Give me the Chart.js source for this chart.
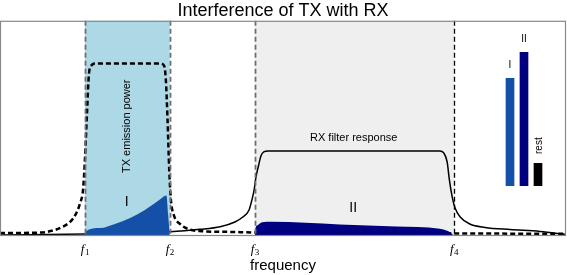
<!DOCTYPE html>
<html>
<head>
<meta charset="utf-8">
<script src="https://cdn.jsdelivr.net/npm/chart.js@4/dist/chart.umd.min.js"></script>
<style>
  body { margin: 0; background: #fff; }
  #wrap { position: relative; width: 567px; height: 275px; }
  #main { position: absolute; left: 0; top: 0; }
  #inset { position: absolute; left: 503px; top: 26px; }
</style>
</head>
<body>
<div id="wrap">
  <canvas id="main" width="567" height="275"></canvas>
  <canvas id="inset" width="42" height="160"></canvas>
</div>
<script>
// band edges on the frequency axis
const bandEdges = [15, 30, 45, 80.2];
const bandSubs = ['1', '2', '3', '4'];

// TX emission power (dashed)
const txFreq  = [0, 7.1, 9.7, 11.0, 12.4, 13.4, 14.1, 14.7, 15.0, 15.4, 15.7, 16.1, 16.8, 28.3, 29.0, 29.3, 29.6, 29.9, 30.2, 30.7, 31.8, 33.2, 35.3, 40.6, 46.0, 61.8, 81.3, 100];
const txPower = [0.014, 0.016, 0.028, 0.042, 0.066, 0.102, 0.149, 0.223, 0.354, 0.586, 0.749, 0.791, 0.802, 0.802, 0.791, 0.726, 0.54, 0.307, 0.167, 0.098, 0.056, 0.033, 0.023, 0.019, 0.016, 0.016, 0.012, 0.01];

// RX filter response (solid)
const rxFreq     = [0, 15.0, 30.0, 35.3, 38.9, 41.5, 42.9, 44.0, 44.5, 44.9, 45.2, 45.7, 46.1, 46.6, 47.4, 77.7, 78.4, 79.0, 79.4, 79.9, 80.4, 81.3, 83.0, 85.7, 90.1, 95.4, 100];
const rxResponse = [0.005, 0.009, 0.020, 0.031, 0.043, 0.065, 0.088, 0.121, 0.167, 0.214, 0.270, 0.330, 0.372, 0.391, 0.395, 0.395, 0.386, 0.344, 0.260, 0.181, 0.130, 0.088, 0.056, 0.040, 0.030, 0.021, 0.007];

// area I (inside TX band)
const areaIFreq  = [15.0, 15.05, 17.7, 20.3, 23.0, 25.6, 27.4, 28.6, 29.4, 29.7, 30.0];
const areaIPower = [0, 0.02, 0.037, 0.056, 0.084, 0.121, 0.153, 0.177, 0.188, 0.10, 0];

// area II (inside RX band)
const areaIIFreq  = [45.05, 45.1, 45.5, 46.3, 48.0, 60, 70, 77.7, 79.0, 79.8, 80.2];
const areaIIPower = [0, 0.03, 0.05, 0.064, 0.066, 0.054, 0.044, 0.034, 0.024, 0.012, 0];

// inset bars
const insetLabels = ['I', 'II', 'rest'];
const insetValues = [108, 134, 23];

const BLUE = '#1550a8';
const NAVY = '#000080';
const SANS = '"Liberation Sans", Arial, sans-serif';
const SERIF = '"Liberation Serif", "Times New Roman", serif';

function pts(xs, ys) {
  return xs.map((x, i) => ({ x: x, y: ys[i] }));
}

const bandPlugin = {
  id: 'bands',
  beforeDatasetsDraw(chart) {
    const ctx = chart.ctx;
    const a = chart.chartArea;
    const x = chart.scales.x;
    ctx.save();
    ctx.fillStyle = '#add8e6';
    ctx.fillRect(x.getPixelForValue(bandEdges[0]), a.top, x.getPixelForValue(bandEdges[1]) - x.getPixelForValue(bandEdges[0]), a.bottom - a.top);
    ctx.fillStyle = '#efefef';
    ctx.fillRect(x.getPixelForValue(bandEdges[2]), a.top, x.getPixelForValue(bandEdges[3]) - x.getPixelForValue(bandEdges[2]), a.bottom - a.top);
    ctx.restore();
  },
  afterDatasetsDraw(chart) {
    const ctx = chart.ctx;
    const a = chart.chartArea;
    const x = chart.scales.x;
    const y = chart.scales.y;
    ctx.save();
    bandEdges.forEach((f, i) => {
      const px = Math.round(x.getPixelForValue(f)) + 0.5;
      ctx.beginPath();
      ctx.setLineDash([5, 3]);
      ctx.lineWidth = i < 3 ? 1.8 : 1.3;
      ctx.strokeStyle = i < 3 ? '#707070' : '#000';
      ctx.moveTo(px, a.top);
      ctx.lineTo(px, a.bottom);
      ctx.stroke();
    });
    ctx.setLineDash([]);

    // text labels inside the plot
    ctx.fillStyle = '#000';
    ctx.textAlign = 'center';
    ctx.textBaseline = 'middle';
    ctx.font = '11px ' + SANS;
    ctx.save();
    ctx.translate(x.getPixelForValue(22.4), y.getPixelForValue(0.51));
    ctx.rotate(-Math.PI / 2);
    ctx.fillText('TX emission power', 0, 0);
    ctx.restore();
    ctx.fillText('RX filter response', x.getPixelForValue(62.5), y.getPixelForValue(0.456));
    ctx.font = '14px ' + SANS;
    ctx.fillText('I', x.getPixelForValue(22.4), y.getPixelForValue(0.158));
    ctx.fillText('II', x.getPixelForValue(62.4), y.getPixelForValue(0.13));

    // frame
    ctx.strokeStyle = '#888';
    ctx.lineWidth = 1.2;
    ctx.strokeRect(a.left + 0.5, a.top + 0.5, a.right - a.left - 1, a.bottom - a.top - 1);

    // tick labels f1..f4 (italic f, upright subscript)
    ctx.textBaseline = 'alphabetic';
    bandEdges.forEach((f, i) => {
      const px = x.getPixelForValue(f);
      const base = a.bottom + 17;
      ctx.font = 'italic 13px ' + SERIF;
      const fw = ctx.measureText('f').width;
      ctx.font = '9px ' + SERIF;
      const sw = ctx.measureText(bandSubs[i]).width;
      const left = px - (fw + sw) / 2;
      ctx.textAlign = 'left';
      ctx.font = 'italic 13px ' + SERIF;
      ctx.fillText('f', left, base);
      ctx.font = '9px ' + SERIF;
      ctx.fillText(bandSubs[i], left + fw + 0.5, base + 2);
    });

    // axis title
    ctx.textAlign = 'center';
    ctx.textBaseline = 'middle';
    ctx.font = '15px ' + SANS;
    ctx.fillText('frequency', (a.left + a.right) / 2, a.bottom + 30);
    ctx.restore();
  }
};

new Chart(document.getElementById('main').getContext('2d'), {
  type: 'line',
  data: {
    datasets: [
      {
        data: pts(areaIFreq, areaIPower),
        borderWidth: 0,
        pointRadius: 0,
        fill: 'origin',
        backgroundColor: BLUE,
        cubicInterpolationMode: 'monotone'
      },
      {
        data: pts(areaIIFreq, areaIIPower),
        borderWidth: 0,
        pointRadius: 0,
        fill: 'origin',
        backgroundColor: NAVY,
        cubicInterpolationMode: 'monotone'
      },
      {
        data: pts(rxFreq, rxResponse),
        borderColor: '#000',
        borderWidth: 1.5,
        pointRadius: 0,
        fill: false,
        cubicInterpolationMode: 'monotone'
      },
      {
        data: pts(txFreq, txPower),
        borderColor: '#000',
        borderWidth: 2.5,
        borderDash: [5, 3],
        pointRadius: 0,
        fill: false,
        cubicInterpolationMode: 'monotone'
      }
    ]
  },
  options: {
    responsive: false,
    animation: false,
    devicePixelRatio: 1,
    layout: { padding: { left: 0, right: 1, top: 0, bottom: 39 } },
    plugins: {
      legend: { display: false },
      tooltip: { enabled: false },
      title: {
        display: true,
        text: 'Interference of TX with RX',
        color: '#000',
        font: { family: SANS, size: 18, weight: 'normal', lineHeight: 1.1 },
        padding: { top: 1, bottom: 0 }
      }
    },
    scales: {
      x: {
        type: 'linear',
        display: false,
        min: 0,
        max: 100
      },
      y: {
        display: false,
        min: 0,
        max: 1
      }
    }
  },
  plugins: [bandPlugin]
});

const insetLabelPlugin = {
  id: 'insetLabels',
  afterDatasetsDraw(chart) {
    const ctx = chart.ctx;
    const meta = chart.getDatasetMeta(0);
    ctx.save();
    ctx.fillStyle = '#000';
    ctx.font = '10px ' + SANS;
    meta.data.forEach((bar, i) => {
      const label = insetLabels[i];
      if (label === 'rest') {
        ctx.save();
        ctx.translate(bar.x + 1, bar.y - 9);
        ctx.rotate(-Math.PI / 2);
        ctx.textAlign = 'left';
        ctx.textBaseline = 'middle';
        ctx.fillText(label, 0, 0);
        ctx.restore();
      } else {
        ctx.textAlign = 'center';
        ctx.textBaseline = 'middle';
        ctx.fillText(label, bar.x, bar.y - 13);
      }
    });
    ctx.restore();
  }
};

new Chart(document.getElementById('inset').getContext('2d'), {
  type: 'bar',
  data: {
    labels: insetLabels,
    datasets: [{
      data: insetValues,
      backgroundColor: [BLUE, NAVY, '#000'],
      borderWidth: 0,
      barPercentage: 0.62,
      categoryPercentage: 1
    }]
  },
  options: {
    responsive: false,
    animation: false,
    devicePixelRatio: 1,
    layout: { padding: 0 },
    plugins: { legend: { display: false }, tooltip: { enabled: false } },
    scales: {
      x: { display: false },
      y: { display: false, min: 0, max: 160 }
    }
  },
  plugins: [insetLabelPlugin]
});
</script>
</body>
</html>
